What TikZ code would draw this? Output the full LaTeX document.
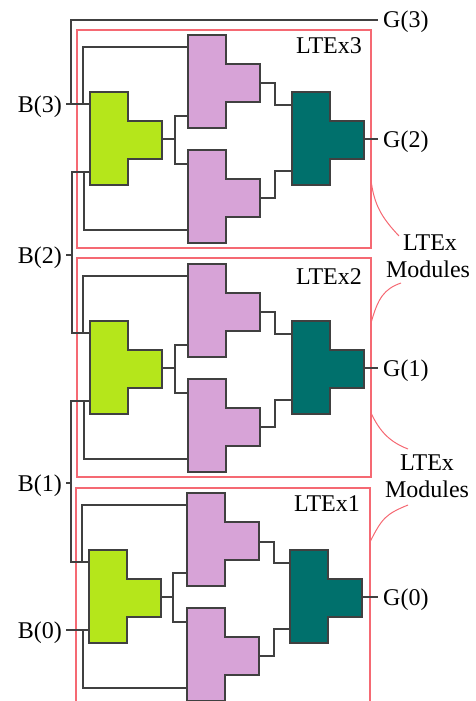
\documentclass[tikz,border=0pt]{standalone}
\usepackage{fontspec}
\setmainfont{Liberation Serif}
\definecolor{modred}{RGB}{245,105,115}
\definecolor{wiregray}{RGB}{64,64,64}
\definecolor{limeblock}{RGB}{181,230,27}
\definecolor{mauveblock}{RGB}{215,163,215}
\definecolor{tealblock}{RGB}{0,112,108}
\tikzset{
  wire/.style={draw=wiregray, line width=1.5pt},
  modbox/.style={draw=modred, line width=1.5pt},
  leader/.style={draw=modred, line width=1pt},
  lab/.style={font=\fontsize{24}{26}\selectfont, inner sep=0pt, text height=16pt, text depth=0pt},
  pics/tblock/.style n args={3}{code={
    \draw[draw=wiregray, line width=1.5pt, pic actions] (0,0) -- (38,0) -- (38,29) -- (72,29) -- (72,67) -- (38,67) -- (38,93) -- (0,93) -- cycle;
    \coordinate (-in1) at (0,#1);
    \coordinate (-in2) at (0,#2);
    \coordinate (-out) at (72,#3);
  }}
}
\begin{document}
\begin{tikzpicture}[x=1pt, y=-1pt]
\useasboundingbox (0,0) rectangle (476,701);
% module boxes
\draw[modbox] (77,30) rectangle (371,248);
\draw[modbox] (77,258) rectangle (371,477);
\draw[modbox] (76,702) -- (76,488) -- (370,488) -- (370,702);
\node[lab, anchor=east] (m3) at (362,45) {LTEx3};
\node[lab, anchor=east] (m2) at (362,276) {LTEx2};
\node[lab, anchor=east] (m1) at (360,503) {LTEx1};
% leaders to the captions
\node[lab] (capa) at (430,242) {LTEx};
\node[lab] (capb) at (428,269) {Modules};
\node[lab] (capc) at (427,462) {LTEx};
\node[lab] (capd) at (427,489) {Modules};
\draw[leader] (371,180) .. controls (374,205) and (382,218) .. (399,236);
\draw[leader] (401,283) .. controls (384,289) and (378,298) .. (371,323);
\draw[leader] (371,413) .. controls (380,432) and (390,442) .. (408,449);
\draw[leader] (408,505) .. controls (386,514) and (382,518) .. (370,542);
% inputs and outputs
\node[lab, anchor=east, inner xsep=4pt] (b3) at (66,104) {B(3)};
\node[lab, anchor=east, inner xsep=4pt] (b2) at (66,255) {B(2)};
\node[lab, anchor=east, inner xsep=4pt] (b1) at (66,483) {B(1)};
\node[lab, anchor=east, inner xsep=4pt] (b0) at (66,630) {B(0)};
\node[lab, anchor=west, inner xsep=5pt] (o3) at (378,20) {G(3)};
\node[lab, anchor=west, inner xsep=5pt] (o2) at (378,139) {G(2)};
\node[lab, anchor=west, inner xsep=5pt] (o1) at (378,368) {G(1)};
\node[lab, anchor=west, inner xsep=5pt] (o0) at (378,597) {G(0)};
% LTEx3
\pic[fill=limeblock] (g3) at (90,92) {tblock={12}{80}{47}};
\pic[fill=mauveblock] (p3a) at (188,35) {tblock={12}{81}{48}};
\pic[fill=mauveblock] (p3b) at (188,150) {tblock={14}{80}{48}};
\pic[fill=tealblock] (t3) at (292,92) {tblock={13}{79}{47}};
% LTEx2
\pic[fill=limeblock] (g2) at (90,321) {tblock={12}{80}{47}};
\pic[fill=mauveblock] (p2a) at (188,264) {tblock={12}{81}{48}};
\pic[fill=mauveblock] (p2b) at (188,379) {tblock={14}{80}{48}};
\pic[fill=tealblock] (t2) at (292,321) {tblock={13}{79}{47}};
% LTEx1
\pic[fill=limeblock] (g1) at (89,550) {tblock={12}{80}{47}};
\pic[fill=mauveblock] (p1a) at (187,493) {tblock={12}{80}{49}};
\pic[fill=mauveblock] (p1b) at (187,608) {tblock={14}{80}{48}};
\pic[fill=tealblock] (t1) at (290,550) {tblock={13}{79}{47}};
% junctions
\coordinate (j3a) at (71,104);
\coordinate (j3b) at (83,104);
\coordinate (j3c) at (84,172);
\coordinate (j3d) at (175,139);
\coordinate (k3a) at (275,95);
\coordinate (k3b) at (275,185);
\coordinate (j2a) at (72,255);
\coordinate (j2b) at (83,333);
\coordinate (j2c) at (84,401);
\coordinate (j2d) at (175,368);
\coordinate (k2a) at (275,324);
\coordinate (k2b) at (275,414);
\coordinate (j1a) at (71,483);
\coordinate (j1b) at (82,562);
\coordinate (j1c) at (83,630);
\coordinate (j1d) at (173,597);
\coordinate (k1a) at (274,553);
\coordinate (k1b) at (274,643);
% wires of LTEx3
\draw[wire] (b3.east) -- (g3-in1);
\draw[wire] (j3a) |- (o3.west);
\draw[wire] (j3b) |- (p3a-in1);
\draw[wire] (j3c) |- (p3b-in2);
\draw[wire] (g3-out) -- (j3d);
\draw[wire] (p3a-in2) -| (j3d) |- (p3b-in1);
\draw[wire] (p3a-out) -| (k3a) |- (t3-in1);
\draw[wire] (p3b-out) -| (k3b) |- (t3-in2);
\draw[wire] (t3-out) -- (o2.west);
% wires of LTEx2
\draw[wire] (b2.east) -- (j2a);
\draw[wire] (g3-in2) -| (j2a) |- (g2-in1);
\draw[wire] (j2b) |- (p2a-in1);
\draw[wire] (j2c) |- (p2b-in2);
\draw[wire] (g2-out) -- (j2d);
\draw[wire] (p2a-in2) -| (j2d) |- (p2b-in1);
\draw[wire] (p2a-out) -| (k2a) |- (t2-in1);
\draw[wire] (p2b-out) -| (k2b) |- (t2-in2);
\draw[wire] (t2-out) -- (o1.west);
% wires of LTEx1
\draw[wire] (b1.east) -- (j1a);
\draw[wire] (g2-in2) -| (j1a) |- (g1-in1);
\draw[wire] (j1b) |- (p1a-in1);
\draw[wire] (b0.east) -- (g1-in2);
\draw[wire] (j1c) |- (p1b-in2);
\draw[wire] (g1-out) -- (j1d);
\draw[wire] (p1a-in2) -| (j1d) |- (p1b-in1);
\draw[wire] (p1a-out) -| (k1a) |- (t1-in1);
\draw[wire] (p1b-out) -| (k1b) |- (t1-in2);
\draw[wire] (t1-out) -- (o0.west);
\end{tikzpicture}
\end{document}
